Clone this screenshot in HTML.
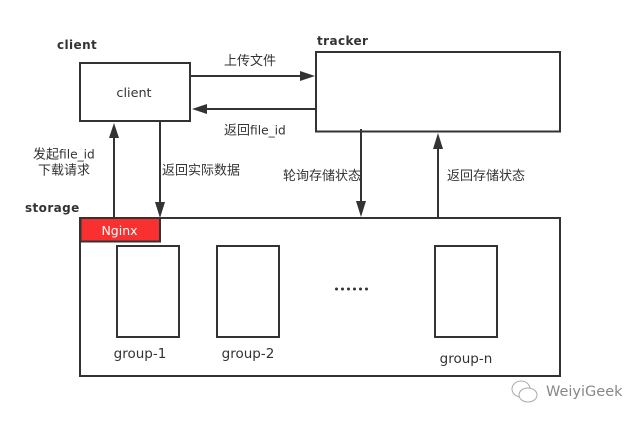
<!DOCTYPE html>
<html>
<head>
<meta charset="utf-8">
<style>
html,body{margin:0;padding:0;background:#fff;width:642px;height:421px;overflow:hidden}
svg{display:block}
text{font-family:"DejaVu Sans","Noto Sans CJK SC",sans-serif;fill:#333;font-size:13.5px}
.cn{font-family:"DejaVu Sans","Noto Sans CJK SC",sans-serif;font-size:13px}
.la{font-size:12.2px}
.b{font-weight:bold;font-size:12px;letter-spacing:.4px}
</style>
</head>
<body>
<svg width="642" height="421" viewBox="0 0 642 421" xmlns="http://www.w3.org/2000/svg">
<g fill="none" stroke="#333" stroke-width="2">
<rect x="80" y="63" width="110" height="58"/>
<rect x="316" y="52" width="244" height="79.500"/>
<rect x="80" y="218" width="480" height="158"/>
<rect x="117" y="246" width="62" height="91"/>
<rect x="217" y="246" width="62" height="91"/>
<rect x="435" y="246" width="62" height="91"/>
<path d="M191 76H306M315 109H200M114 218V131M160 121V208M361 129V208M438 218V141"/>
</g>
<rect x="80.500" y="218" width="79.500" height="23.500" fill="#f93030" stroke="#333" stroke-width="2"/>
<g fill="#333">
<path d="M315 76L300 71V81Z"/>
<path d="M192 109L207 104V114Z"/>
<path d="M114 123L109 138H119Z"/>
<path d="M160 218L155 202H165Z"/>
<path d="M361 217L356 201H366Z"/>
<path d="M438 133L433 149H443Z"/>
</g>
<text x="57" y="49" class="b">client</text>
<text x="317" y="45" class="b">tracker</text>
<text x="25" y="212" class="b">storage</text>
<text x="134" y="97" text-anchor="middle" style="font-size:12.800px">client</text>
<text x="224" y="65" class="cn">上传文件</text>
<text x="224" y="134.500" class="cn">返回<tspan class="la">file_id</tspan></text>
<text x="33" y="158.500" class="cn">发起<tspan class="la">file_id</tspan></text>
<text x="38" y="174.500" class="cn">下载请求</text>
<text x="162" y="174.500" class="cn">返回实际数据</text>
<text x="283" y="180" class="cn">轮询存储状态</text>
<text x="447" y="180" class="cn">返回存储状态</text>
<text x="119.500" y="235" text-anchor="middle" style="fill:#fff;font-size:12.500px">Nginx</text>
<text x="140" y="358" text-anchor="middle">group-1</text>
<text x="248" y="358" text-anchor="middle">group-2</text>
<text x="466" y="363" text-anchor="middle">group-n</text>
<g fill="#333">
<circle cx="336.500" cy="289" r="1.500"/><circle cx="342.500" cy="289" r="1.500"/><circle cx="348.500" cy="289" r="1.500"/><circle cx="354.500" cy="289" r="1.500"/><circle cx="360.500" cy="289" r="1.500"/><circle cx="366.500" cy="289" r="1.500"/>
</g>
<g fill="#fff" stroke="#aaa" stroke-width="1">
<ellipse cx="521" cy="389" rx="9" ry="8"/>
<ellipse cx="528" cy="395" rx="9" ry="7"/>
</g>
<text x="546" y="396" style="fill:#888;font-size:14.500px">WeiyiGeek</text>
</svg>
</body>
</html>
